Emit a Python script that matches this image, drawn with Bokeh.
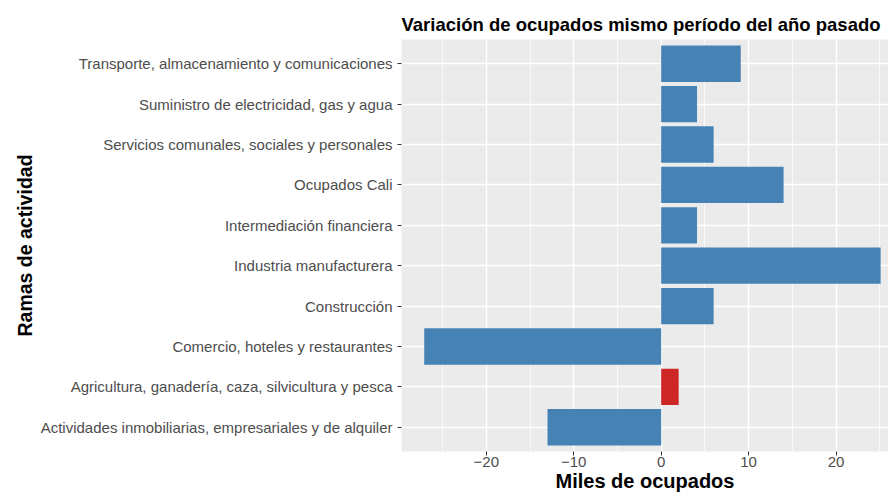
from bokeh.plotting import figure
from bokeh.models import ColumnDataSource, FixedTicker
from bokeh.embed import file_html
from bokeh.resources import INLINE

# Data (bottom to top, as in the reference)
categories = [
    "Actividades inmobiliarias, empresariales y de alquiler",
    "Agricultura, ganadería, caza, silvicultura y pesca",
    "Comercio, hoteles y restaurantes",
    "Construcción",
    "Industria manufacturera",
    "Intermediación financiera",
    "Ocupados Cali",
    "Servicios comunales, sociales y personales",
    "Suministro de electricidad, gas y agua",
    "Transporte, almacenamiento y comunicaciones",
]
values = [-13.0, 2.0, -27.1, 6.0, 25.1, 4.1, 14.0, 6.0, 4.1, 9.1]
highlight = [False, True, False, False, False, False, False, False, False, False]
x_ticks = [-20, -10, 0, 10, 20]
x_tick_labels = ["\u221220", "\u221210", "0", "10", "20"]
x_minor = [-25, -15, -5, 5, 15, 25]

BLUE = "#4682B4"
RED = "#CD2626"

pos = list(range(1, len(categories) + 1))
colors = [RED if h else BLUE for h in highlight]
src = ColumnDataSource(dict(y=pos, v=values, c=colors, cat=categories))

FONT = "Liberation Sans"

p = figure(width=888, height=496, output_backend="svg", toolbar_location=None,
           x_range=(-29.7, 26.0), y_range=(0.4, len(categories) + 0.6),
           title="Variación de ocupados mismo período del año pasado")
p.min_border_left = 401
p.min_border_right = 0
p.min_border_top = 39
p.min_border_bottom = 45
p.background_fill_color = "#EBEBEB"
p.border_fill_color = "white"
p.outline_line_color = None

p.title.text_font = FONT
p.title.text_font_size = "18.5px"
p.title.text_font_style = "bold"
p.title.text_color = "black"
p.title.align = "left"
p.title.standoff = 10
p.title.offset = 0

p.hbar(y="y", left=0, right="v", height=0.9, fill_color="c", line_color=None, source=src)

# x axis
xa = p.xaxis[0]
xa.ticker = FixedTicker(ticks=x_ticks, minor_ticks=x_minor)
xa.major_label_overrides = {t: l for t, l in zip(x_ticks, x_tick_labels)}
xa.axis_label = "Miles de ocupados"

# y axis
ya = p.yaxis[0]
ya.ticker = FixedTicker(ticks=pos)
ya.major_label_overrides = {i: c for i, c in zip(pos, categories)}
ya.axis_label = "Ramas de actividad"

for ax in (xa, ya):
    ax.axis_line_color = None
    ax.major_tick_line_color = "#333333"
    ax.major_tick_line_width = 1
    ax.major_tick_out = 4
    ax.major_tick_in = 0
    ax.minor_tick_line_color = None
    ax.major_label_text_font = FONT
    ax.major_label_text_font_size = "15px"
    ax.major_label_text_color = "#4D4D4D"
    ax.axis_label_text_font = FONT
    ax.axis_label_text_font_style = "bold"
    ax.axis_label_text_color = "black"

xa.axis_label_text_font_size = "20px"
ya.axis_label_text_font_size = "19.5px"
xa.major_label_standoff = 1
xa.axis_label_standoff = 0
ya.major_label_standoff = 5
ya.axis_label_standoff = 2

p.xgrid.grid_line_color = "white"
p.xgrid.grid_line_width = 1.4
p.xgrid.minor_grid_line_color = "white"
p.xgrid.minor_grid_line_width = 0.7
p.ygrid.grid_line_color = "white"
p.ygrid.grid_line_width = 1.4

open("out.html", "w").write(file_html(p, INLINE))
